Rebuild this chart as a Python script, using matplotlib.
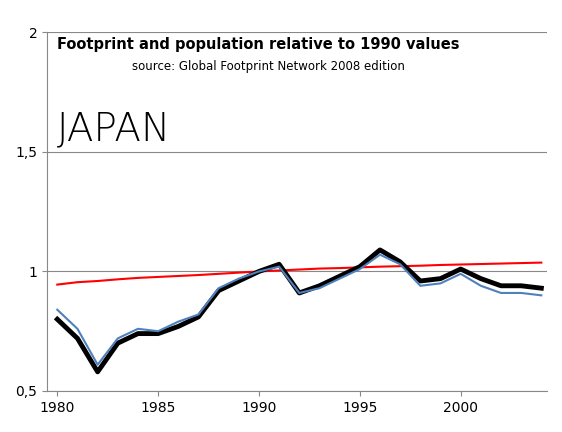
import matplotlib
matplotlib.use('Agg')
import matplotlib.pyplot as plt

years = list(range(1980, 2005))
footprint = [0.80, 0.72, 0.58, 0.70, 0.74, 0.74, 0.77, 0.81, 0.92, 0.96, 1.00, 1.03, 0.91, 0.94,
             0.98, 1.02, 1.09, 1.04, 0.96, 0.97, 1.01, 0.97, 0.94, 0.94, 0.93]
footprint2 = [0.84, 0.76, 0.61, 0.72, 0.76, 0.75, 0.79, 0.82, 0.93, 0.97, 1.00, 1.02, 0.91, 0.93,
              0.97, 1.01, 1.07, 1.03, 0.94, 0.95, 0.99, 0.94, 0.91, 0.91, 0.90]
population = [0.945, 0.955, 0.96, 0.967, 0.973, 0.977, 0.981, 0.985, 0.99, 0.995, 1.0, 1.004, 1.008,
              1.012, 1.014, 1.017, 1.02, 1.022, 1.024, 1.027, 1.029, 1.031, 1.033, 1.035, 1.037]

fig = plt.figure(figsize=(5.62, 4.32), dpi=100)
ax = fig.add_axes([0.084, 0.095, 0.89, 0.83])
ax.plot(years, population, color='#ff0000', lw=1.5)
ax.plot(years, footprint, color='black', lw=3.5)
ax.plot(years, footprint2, color='#4f81bd', lw=1.5)

ax.set_xlim(1979.5, 2004.3)
ax.set_ylim(0.5, 2)
ax.set_yticks([0.5, 1, 1.5, 2])
ax.set_yticklabels(['0,5', '1', '1,5', '2'])
ax.set_xticks([1980, 1985, 1990, 1995, 2000])
ax.grid(axis='y', color='#888888', lw=0.8)
ax.set_axisbelow(True)
for s in ['top', 'right']:
    ax.spines[s].set_visible(False)
for s in ['left', 'bottom']:
    ax.spines[s].set_color('#888888')
ax.tick_params(labelsize=10, color='#888888')

ax.text(0.02, 0.955, 'Footprint and population relative to 1990 values', transform=ax.transAxes,
        fontsize=10.5, fontweight='bold')
ax.text(0.17, 0.895, 'source: Global Footprint Network 2008 edition', transform=ax.transAxes,
        fontsize=8.5)
ax.text(0.02, 0.70, 'JAPAN', transform=ax.transAxes, fontsize=28, fontweight='light')

fig.savefig('out.png', dpi=100)
